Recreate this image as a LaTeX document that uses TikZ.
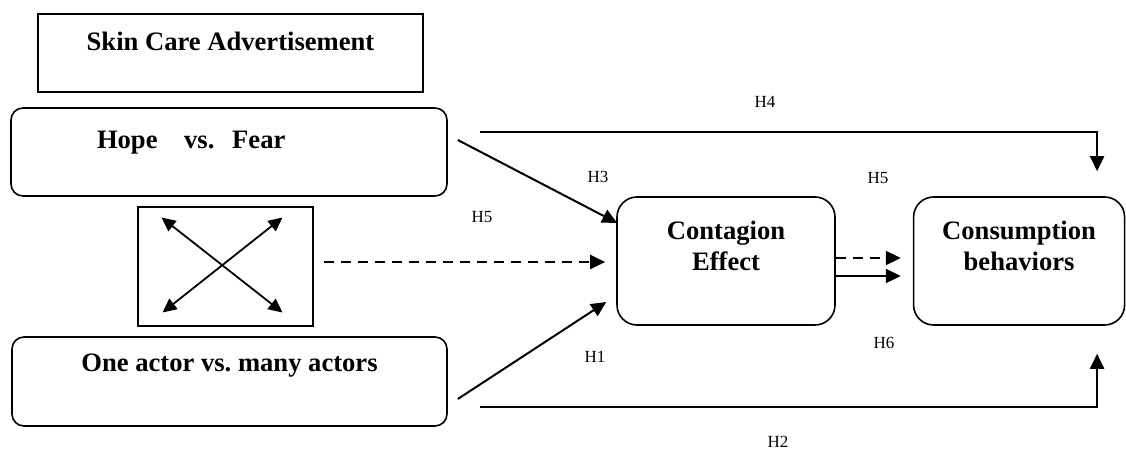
\documentclass[tikz,border=0pt]{standalone}
\usepackage{fontspec}
\setmainfont{Liberation Serif}
\usetikzlibrary{positioning, arrows.meta, calc}
\frenchspacing

\begin{document}
\begin{tikzpicture}[
    % one unit = one pixel of the reference, y runs downwards
    x=1pt, y=-1pt,
    box/.style={rectangle, draw, line width=1.6pt, align=center, font=\fontsize{26.6}{31}\selectfont\bfseries},
    rbox/.style={box, rounded corners=12pt},
    bigbox/.style={box, rounded corners=20pt, minimum width=218pt, minimum height=128pt},
    arrow/.style={-{Triangle[length=15pt, width=14pt]}, line width=2pt},
    dasharrow/.style={arrow, dash pattern=on 10pt off 7pt},
    dblarrow/.style={{Triangle[length=14pt, width=13pt]}-{Triangle[length=14pt, width=13pt]}, line width=1.8pt},
    lbl/.style={font=\fontsize{17}{20}\selectfont, inner sep=0pt}
]
    \useasboundingbox (0,0) rectangle (1126,452);

    % --- Left column: the advertisement factors ---
    \node[box, minimum width=385pt, minimum height=78pt] (skin) at (230.5,53) {Skin Care Advertisement\\[-7pt]\mbox{}};
    \node[rbox, minimum width=436pt, minimum height=88pt, text width=264pt, inner xsep=86pt, align=left] (hope) at (229,152) {Hope\ \ \ vs.\ \ Fear\\[-7pt]\mbox{}};
    \node[draw, line width=1.8pt, minimum width=175pt, minimum height=119pt] (mix) at (225.5,266.5) {};
    \node[rbox, minimum width=435pt, minimum height=89pt] (actors) at (229.5,381.5) {One actor vs. many actors\\[6pt]\mbox{}};

    % --- Right side: mediator and outcome ---
    \node[bigbox] (contagion) at (726,261) {Contagion\\Effect\\\mbox{}};
    \node[bigbox, minimum width=211pt, right=77pt of contagion] (consumption) {Consumption\\behaviors\\\mbox{}};

    % --- Interaction cross inside the small box ---
    \draw[dblarrow] ($(mix.center)+(-64,-49)$) -- ($(mix.center)+(57,46)$);
    \draw[dblarrow] ($(mix.center)+(57,-49)$) -- ($(mix.center)+(-63,46)$);

    % --- Paths into the contagion effect ---
    \draw[arrow] ($(hope.east)+(10,-12)$) -- ($(contagion.west)+(1,-38)$);
    \draw[dasharrow] ($(mix.east)+(10,-4.5)$) -- ($(contagion.west)+(-11,1)$);
    \draw[arrow] ($(actors.east)+(10,17.5)$) -- ($(contagion.west)+(-10,41)$);

    % --- Direct paths to consumption ---
    \draw[arrow] ($(hope.east)+(32,-20)$) -| ($(consumption.north)+(78,-25)$);
    \draw[arrow] ($(actors.east)+(32,25.5)$) -| ($(consumption.south)+(78,28)$);

    % --- Contagion to consumption ---
    \draw[dasharrow] ($(contagion.east)+(0,-3)$) -- ($(consumption.west)+(-12,-3)$);
    \draw[arrow] ($(contagion.east)+(0,15)$) -- ($(consumption.west)+(-12,15)$);

    % --- Hypothesis labels ---
    \node[lbl] (h4) at (765,102) {H4};
    \node[lbl] (h3) at (598,177) {H3};
    \node[lbl] (h5a) at (482,217) {H5};
    \node[lbl] (h5b) at (878,178) {H5};
    \node[lbl] (h1) at (595,357) {H1};
    \node[lbl] (h6) at (884,343) {H6};
    \node[lbl] (h2) at (778,442) {H2};
\end{tikzpicture}
\end{document}
